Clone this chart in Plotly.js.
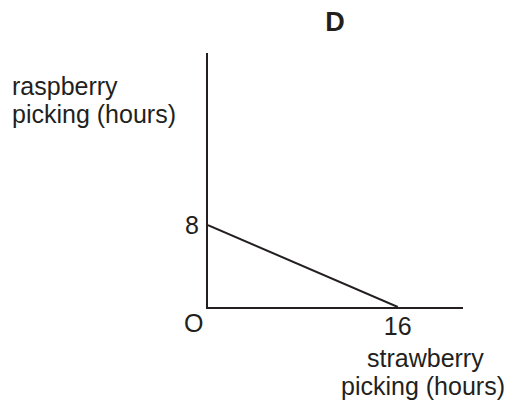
<!DOCTYPE html>
<html>
<head>
<meta charset="utf-8">
<script src="https://cdn.plot.ly/plotly-3.0.1.min.js"></script>
<style>
  html, body { margin: 0; padding: 0; background: #ffffff; }
  #chart { width: 509px; height: 403px; }
</style>
</head>
<body>
<div id="chart"></div>
<script>
// Production possibility line: strawberry hours vs raspberry hours
const strawberryHours = [0, 16];
const raspberryHours = [8, 0];

// Axis tick labels
const xTickVals = [16];
const xTickText = ['16'];
const yTickVals = [8];
const yTickText = ['8'];

const panelTitle = 'D';
const yTitleLines = ['raspberry', 'picking (hours)'];
const xTitleLines = ['strawberry', 'picking (hours)'];
const originLabel = 'O';

const ink = '#231f20';
const fontFamily = '"Liberation Sans", Arial, Helvetica, sans-serif';
const textSize = 25;
const tickSize = 25;

// Pixel geometry of the plot area
const W = 509, H = 403;
const margin = { l: 208, r: 46, t: 53, b: 96 };
const plotW = W - margin.l - margin.r;
const plotH = H - margin.t - margin.b;
const px2paperX = px => (px - margin.l) / plotW;
const px2paperY = py => (H - margin.b - py) / plotH;

const trace = {
  x: strawberryHours,
  y: raspberryHours,
  type: 'scatter',
  mode: 'lines',
  line: { color: ink, width: 2 },
  cliponaxis: false,
  hoverinfo: 'skip',
  showlegend: false
};

const axisCommon = {
  showline: true,
  linecolor: ink,
  linewidth: 2,
  showgrid: false,
  zeroline: false,
  ticks: '',
  tickfont: { family: fontFamily, size: tickSize, color: ink },
  fixedrange: true
};

const textFont = { family: fontFamily, size: textSize, color: ink };

// Two-line axis captions, one annotation per line
function captionLine(text, xPx, yPx, anchor) {
  return {
    text: text, xref: 'paper', yref: 'paper',
    x: px2paperX(xPx), y: px2paperY(yPx),
    xanchor: anchor, yanchor: 'middle', align: anchor,
    borderpad: 0, showarrow: false, font: textFont
  };
}

const annotations = [
  {
    text: originLabel, xref: 'x', yref: 'y', x: 0, y: 0,
    xanchor: 'center', yanchor: 'middle', xshift: -15, yshift: -16,
    showarrow: false, font: { family: fontFamily, size: tickSize, color: ink }
  },
  captionLine(yTitleLines[0], 11, 85.5, 'left'),
  captionLine(yTitleLines[1], 11, 114, 'left'),
  captionLine(xTitleLines[0], 425, 357.5, 'center'),
  captionLine(xTitleLines[1], 423, 386, 'center')
];

const layout = {
  width: W,
  height: H,
  margin: margin,
  paper_bgcolor: '#ffffff',
  plot_bgcolor: '#ffffff',
  showlegend: false,
  title: {
    text: '<b>' + panelTitle + '</b>',
    x: 335 / W, xref: 'container', xanchor: 'center',
    y: 1 - 22 / H, yref: 'container', yanchor: 'middle',
    font: { family: fontFamily, size: 27, color: ink }
  },
  xaxis: Object.assign({}, axisCommon, {
    range: [0, 21.5],
    tickvals: xTickVals,
    ticktext: xTickText,
    ticklabelstandoff: -4
  }),
  yaxis: Object.assign({}, axisCommon, {
    range: [0, 24.8],
    tickvals: yTickVals,
    ticktext: yTickText,
    ticklabelstandoff: 2
  }),
  annotations: annotations
};

Plotly.newPlot('chart', [trace], layout, { displayModeBar: false, staticPlot: true });
</script>
</body>
</html>
